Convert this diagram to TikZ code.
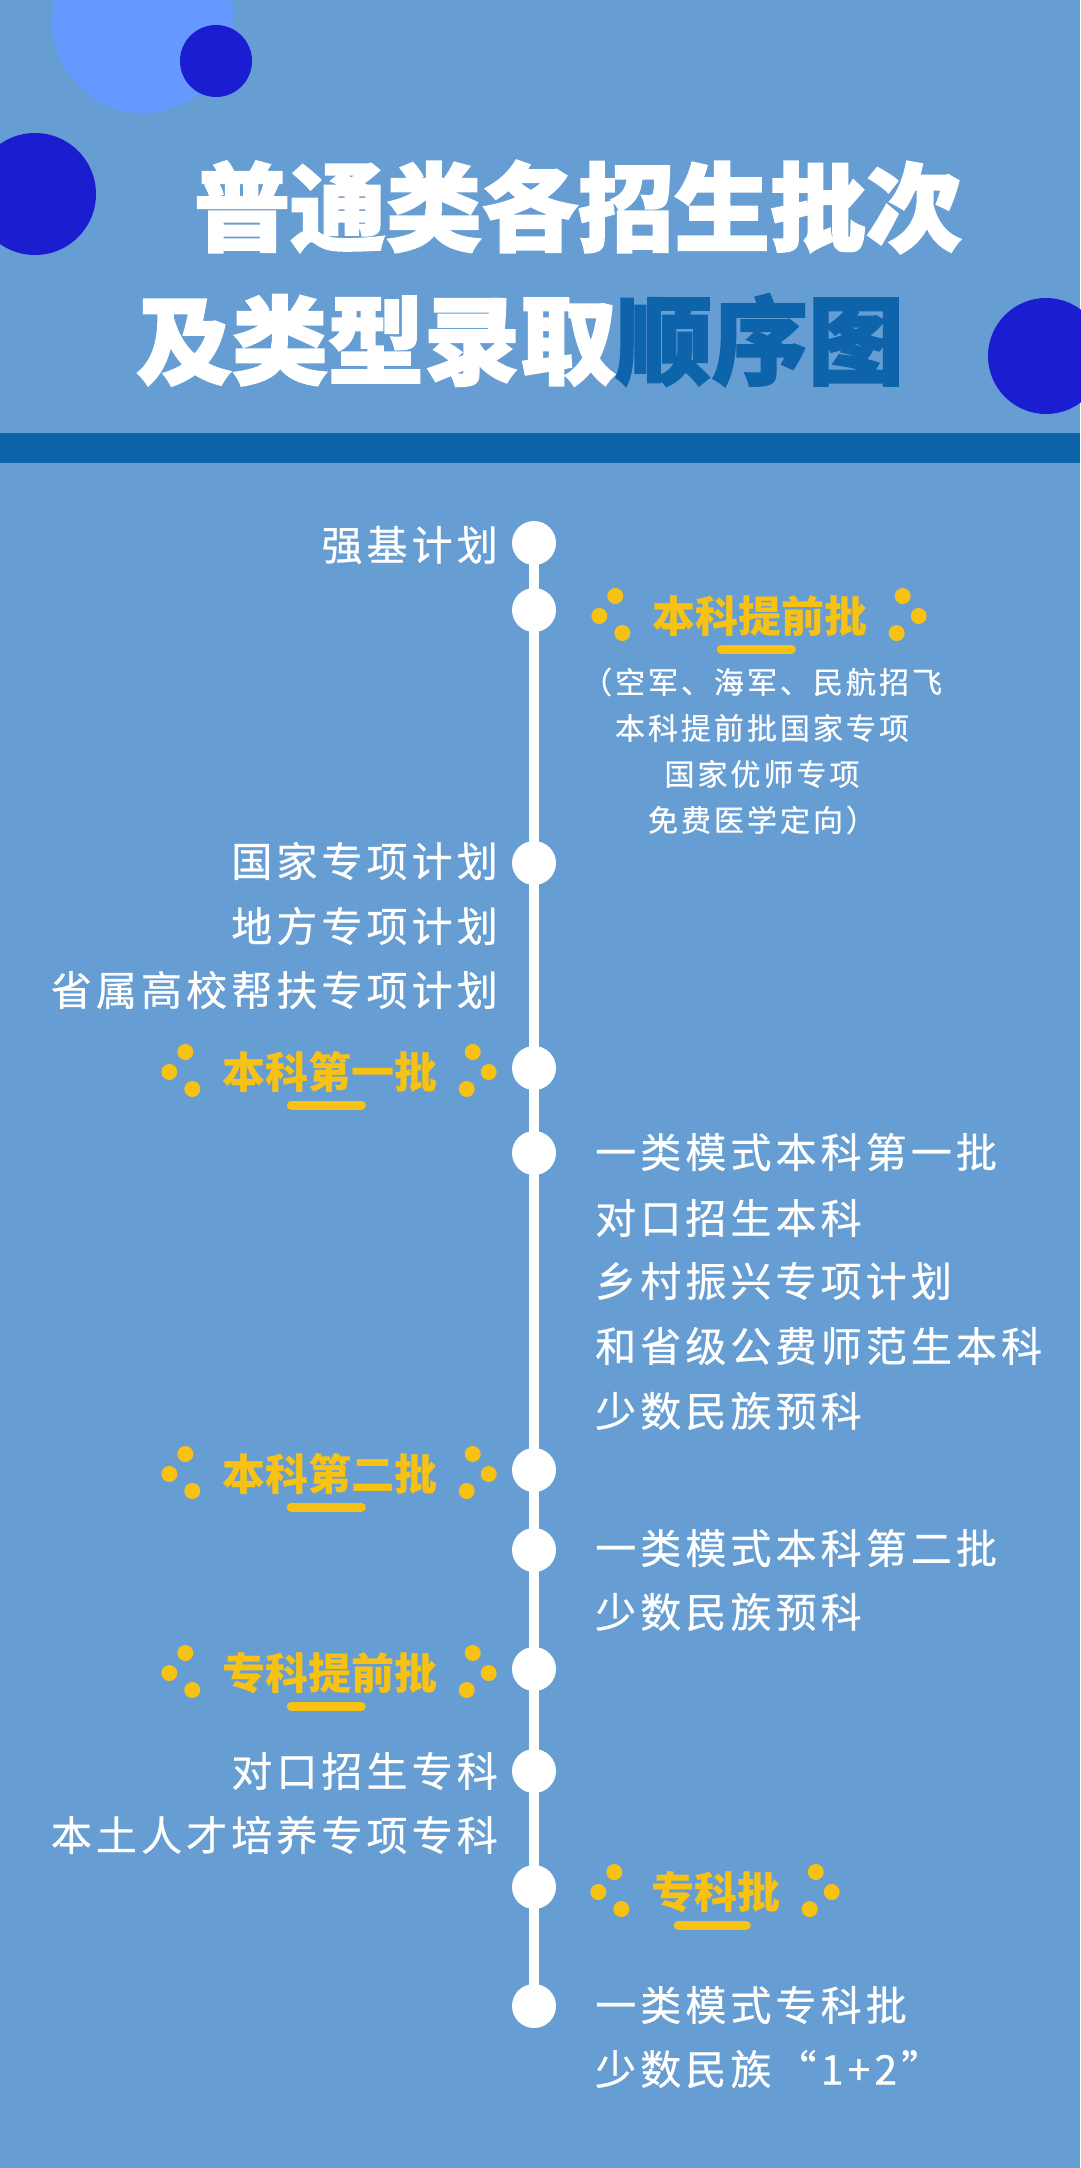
\documentclass[tikz,border=0pt]{standalone}
\usepackage{fontspec}
\usepackage{xcolor}
\usepackage{tikz}
\usetikzlibrary{calc}
\newfontfamily\cjk[LetterSpace=10, FakeBold=0.6]{Noto Sans CJK SC}
\newfontfamily\cjkbatch{Noto Sans CJK SC}
\newfontfamily\cjktitle[BoldFeatures={FakeBold=2}]{Noto Sans CJK SC}

\definecolor{pageblue}{RGB}{102,157,210}
\definecolor{paleblue}{RGB}{102,153,255}
\definecolor{deepblue}{RGB}{27,30,208}
\definecolor{stripeblue}{RGB}{14,100,170}
\definecolor{batchyellow}{RGB}{247,194,20}

\tikzset{
  tdot/.style={circle, fill=white, minimum size=44pt, inner sep=0pt},
  entry/.style={text=white, inner sep=0pt, font=\cjk\fontsize{41}{48}\selectfont},
  batch/.style={text=batchyellow, inner sep=0pt, font=\cjkbatch\bfseries\fontsize{43}{50}\selectfont},
  tline/.style={white, line width=10pt, shorten <=-3pt, shorten >=-3pt},
  underbar/.style={batchyellow, line width=9pt, line cap=round},
  spark/.style={fill=batchyellow}
}

\begin{document}
\begin{tikzpicture}[x=1pt, y=-1pt]
  \useasboundingbox (0, 0) rectangle (1080, 2168);
  \fill [pageblue] (0, 0) rectangle (1080, 2168);

  % circles at the top
  \fill [paleblue] (143, 22) circle (91pt);
  \fill [deepblue] (216, 61) circle (36pt);
  \fill [deepblue] (35, 194) circle (61pt);
  \fill [deepblue] (1046, 356) circle (58pt);
  \fill [stripeblue] (0, 433) rectangle (1080, 463);

  \node [text=white, inner sep=0pt, font=\cjktitle\bfseries\fontsize{96}{100}\selectfont] (title1) at (578, 207) {普通类各招生批次};
  \node [text=white, inner sep=0pt, font=\cjktitle\bfseries\fontsize{96}{100}\selectfont] (title2) at (520, 340) {及类型录取\textcolor{stripeblue}{顺序图}};

  % timeline
  \foreach \n/\y in {1/543, 2/610, 3/863, 4/1068, 5/1153, 6/1470, 7/1550, 8/1669, 9/1771, 10/1887, 11/2006}
    \node [tdot] (d\n) at (534, \y) {};
  \foreach \a/\b in {1/2, 2/3, 3/4, 4/5, 5/6, 6/7, 7/8, 8/9, 9/10, 10/11}
    \draw [tline] (d\a) -- (d\b);

  % batches
  \node [batch] (h1) at (760, 616) {本科提前批};
  \node [batch] (h2) at (330, 1072) {本科第一批};
  \node [batch] (h3) at (330, 1474) {本科第二批};
  \node [batch] (h4) at (330, 1673) {专科提前批};
  \node [batch] (h5) at (716, 1892) {专科批};
  \foreach \h/\s/\l in {h1/65/78, h2/65/78, h3/65/78, h4/65/78, h5/23/76}
    \draw [underbar] ($(\h.west)+(\s+4, 33)$) -- ++(\l-8, 0);
  \foreach \h in {h1, h2, h3, h4, h5} {
    \fill [spark] ($(\h.west)+(-37, -20)$) circle (8pt) ($(\h.west)+(-53, 0)$) circle (8pt) ($(\h.west)+(-30, 17)$) circle (8pt);
    \fill [spark] ($(\h.east)+(35, -20)$) circle (8pt) ($(\h.east)+(51, 0)$) circle (8pt) ($(\h.east)+(29, 17)$) circle (8pt);
  }

  \node [entry, align=center, font=\cjk\fontsize{30}{46}\selectfont] (h1list) at (762, 751) {（空军、海军、民航招飞\\本科提前批国家专项\\国家优师专项\\免费医学定向）};

  % left side
  \node [entry, anchor=east] (q1) at (498, 545) {强基计划};
  \node [entry, anchor=east] (q3a) at (498, 861) {国家专项计划};
  \node [entry, anchor=east] (q3b) at (498, 926) {地方专项计划};
  \node [entry, anchor=east] (q3c) at (498, 990) {省属高校帮扶专项计划};
  \node [entry, anchor=east] (q9a) at (498, 1771) {对口招生专科};
  \node [entry, anchor=east] (q9b) at (498, 1835) {本土人才培养专项专科};

  % right side
  \node [entry, anchor=west] (q5a) at (595, 1152) {一类模式本科第一批};
  \node [entry, anchor=west] (q5b) at (595, 1218) {对口招生本科};
  \node [entry, anchor=west] (q5c) at (595, 1281) {乡村振兴专项计划};
  \node [entry, anchor=west] (q5d) at (595, 1346) {和省级公费师范生本科};
  \node [entry, anchor=west] (q5e) at (595, 1411) {少数民族预科};
  \node [entry, anchor=west] (q7a) at (595, 1548) {一类模式本科第二批};
  \node [entry, anchor=west] (q7b) at (595, 1612) {少数民族预科};
  \node [entry, anchor=west] (q11a) at (595, 2005) {一类模式专科批};
  \node [entry, anchor=west] (q11b) at (595, 2069) {少数民族“1+2”};
\end{tikzpicture}
\end{document}
